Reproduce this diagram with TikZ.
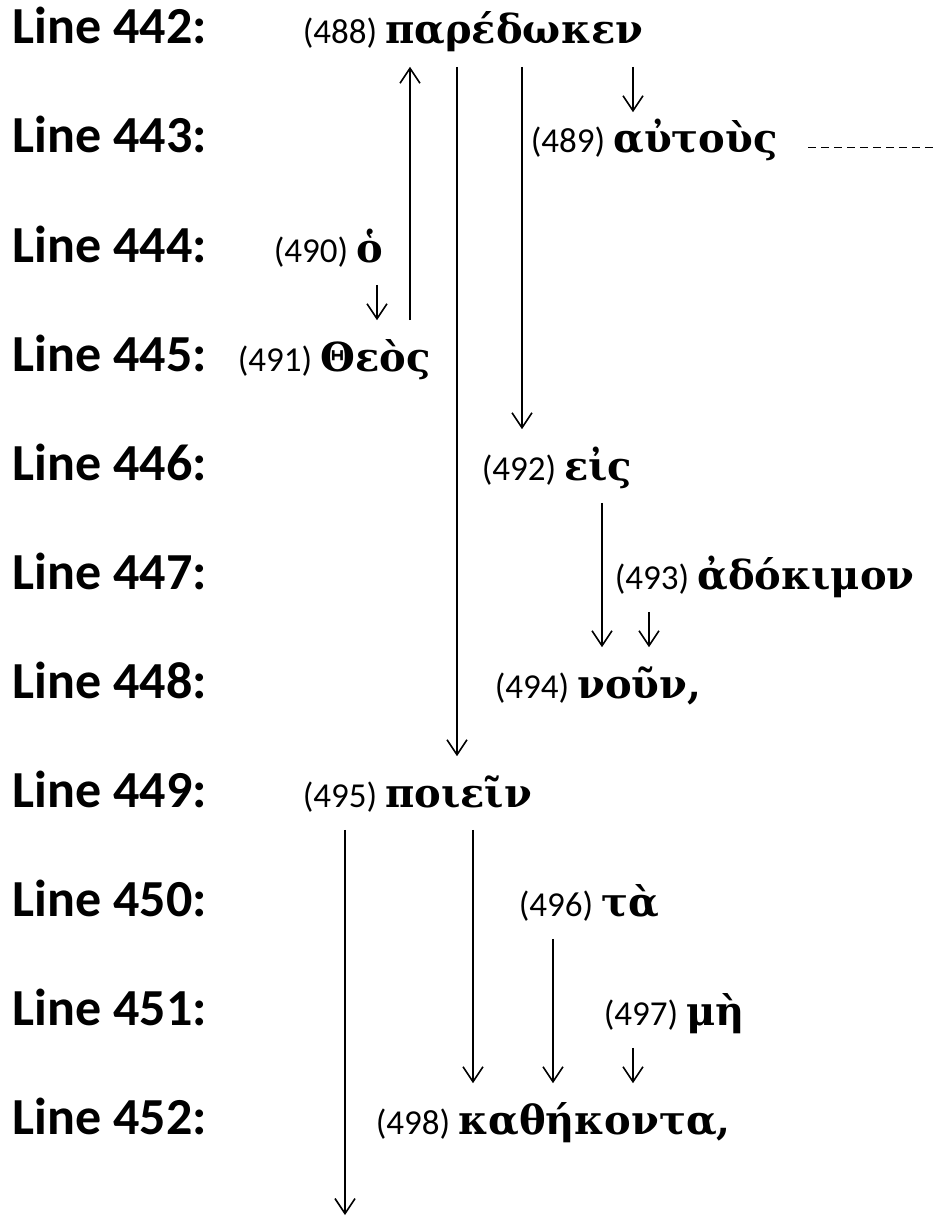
\documentclass[tikz,border=0pt]{standalone}
\usepackage{fontspec}
\setmainfont{Carlito}
\newfontfamily\greekfont{DejaVu Serif}
\usetikzlibrary{arrows.meta}

\newcommand{\gw}[2]{{\fontsize{35}{40}\selectfont(#1)}\hspace{8pt}{\greekfont\bfseries\fontsize{40}{46}\selectfont #2}}

\begin{document}
\begin{tikzpicture}[x=1pt, y=-1pt, line width=1.6pt,
    >={Straight Barb[length=15pt,width=20pt]},
    lbl/.style={anchor=base west, inner sep=0pt, font=\fontsize{52}{60}\selectfont\bfseries},
    wrd/.style={anchor=base west, inner sep=0pt, text height=50pt, text depth=22pt}]
    \useasboundingbox (0,0) rectangle (933,1217);
    % line labels
    \node[lbl] (l442) at (12,44) {Line 442:};
    \node[lbl] (l443) at (12,153) {Line 443:};
    \node[lbl] (l444) at (12,262) {Line 444:};
    \node[lbl] (l445) at (12,371) {Line 445:};
    \node[lbl] (l446) at (12,480) {Line 446:};
    \node[lbl] (l447) at (12,589) {Line 447:};
    \node[lbl] (l448) at (12,698) {Line 448:};
    \node[lbl] (l449) at (12,807) {Line 449:};
    \node[lbl] (l450) at (12,916) {Line 450:};
    \node[lbl] (l451) at (12,1025) {Line 451:};
    \node[lbl] (l452) at (12,1134) {Line 452:};
    % words
    \node[wrd] (w488) at (302,44) {\gw{488}{παρέδωκεν}};
    \node[wrd] (w489) at (530,153) {\gw{489}{αὐτοὺς}};
    \node[wrd] (w490) at (273,262) {\gw{490}{ὁ}};
    \node[wrd] (w491) at (237,371) {\gw{491}{Θεὸς}};
    \node[wrd] (w492) at (481,480) {\gw{492}{εἰς}};
    \node[wrd] (w493) at (614,589) {\gw{493}{ἀδόκιμον}};
    \node[wrd] (w494) at (494,698) {\gw{494}{νοῦν,}};
    \node[wrd] (w495) at (302,807) {\gw{495}{ποιεῖν}};
    \node[wrd] (w496) at (518,916) {\gw{496}{τὰ}};
    \node[wrd] (w497) at (603,1025) {\gw{497}{μὴ}};
    \node[wrd] (w498) at (375,1134) {\gw{498}{καθήκοντα,}};
    \coordinate (off489) at (933,148);
    \coordinate (off495) at (345,1215);
    % connectors
    \draw[->] (w491.north -| 410,0) -- (w488.south -| 410,0);
    \draw[->] (w488.south -| 457,0) -- (w495.north -| 457,0);
    \draw[->] (w488.south -| 522,0) -- (w492.north -| 522,0);
    \draw[->, shorten >=-10pt] (w488.south -| 633,0) -- (w489.north -| 633,0);
    \draw[line width=1pt, dash pattern=on 8pt off 5pt] ([yshift=5pt]w489.base east -| 808,0) -- (off489);
    \draw[->] (w490.south -| 377,0) -- (w491.north -| 377,0);
    \draw[->] (w492.south -| 602,0) -- (w494.north -| 602,0);
    \draw[->] (w493.south -| 649,0) -- (w494.north -| 649,0);
    \draw[->] (w495.south -| off495) -- (off495);
    \draw[->] (w495.south -| 473,0) -- (w498.north -| 473,0);
    \draw[->] (w496.south -| 553,0) -- (w498.north -| 553,0);
    \draw[->] (w497.south -| 633,0) -- (w498.north -| 633,0);
\end{tikzpicture}
\end{document}
